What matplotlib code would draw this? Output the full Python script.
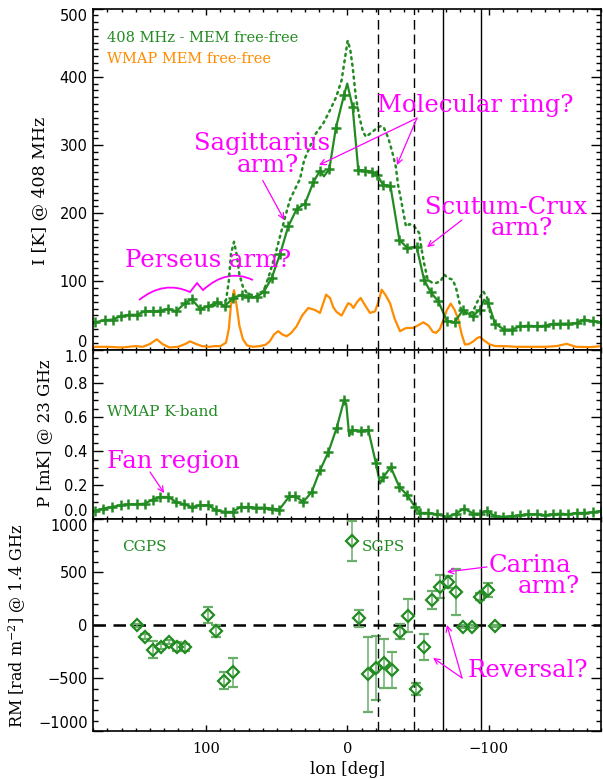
import matplotlib.pyplot as plt
from matplotlib.path import Path
from matplotlib.patches import PathPatch
from matplotlib.ticker import MultipleLocator

GREEN = '#228b22'
ORANGE = '#ff8c00'
MAGENTA = '#ff00ff'
ERR_GREEN = '#6aae6a'

plt.rcParams['font.family'] = 'DejaVu Serif'
plt.rcParams['mathtext.fontset'] = 'dejavuserif'

# --- 408 MHz minus MEM free-free, brightness temperature [K]
lon_408 = [180, 178.8, 171.7, 166.3, 160.6, 154.5, 149.3, 143.4, 137.9, 132.8,
           126.9, 121.4, 115, 110.3, 104.4, 98.5, 92.6, 86.7, 80.8, 74.9,
           70.2, 64.3, 59.1, 53.6, 47.7, 41.9, 35.9, 30, 24.2, 19.4,
           16.6, 12.8, 8.1, 2.4, 0.1, -3.7, -7.7, -12.4, -17.1, -21.1,
           -25.3, -30.5, -36.8, -42.4, -49, -54.3, -59, -64.4, -70.5, -76,
           -81.7, -88.8, -93.9, -96.8, -99.8, -104.6, -111, -116.4, -122.3, -128.2,
           -134, -140, -145.4, -150.8, -156.5, -162.4, -167.6, -174.2, -180]
temp_408 = [39, 40, 43, 44, 48.8, 51, 51, 56, 56, 57,
            59.6, 56, 68, 74, 59.6, 63.4, 69, 64, 75.6, 80.5,
            77, 77, 85, 105, 140, 180.5, 206, 214, 245, 262.5,
            254, 264.5, 325.5, 373, 390, 356, 263.5, 262.5, 261, 256,
            241.6, 240, 161, 149, 151, 102.5, 84, 70.7, 42, 40,
            57.5, 48.8, 58.6, 73, 68.3, 38, 29.3, 29.3, 34, 35,
            34, 35, 37.6, 38, 38, 39, 44, 41.5, 40]
unmarked_408 = [180, 16.6, 0.1, -96.8]

# --- total 408 MHz where it departs from the curve above [K]
lon_408_tot = [95, 90, 86, 84, 82.5, 80.3, 78.5, 76.5, 74, 71,
               64, 59, 55, 51, 47.7, 44, 40.7, 36, 33.6, 30.6,
               26, 22.3, 17, 12.3, 8, 4.1, 1.5, -0.2, -2, -3.7,
               -6, -8.4, -11, -13.1, -17, -21.3, -24, -26, -29, -32,
               -34.3, -36, -38, -41.5, -44, -47.4, -50.9, -52.2, -54.5, -56.9,
               -60, -62.8, -66, -68.5, -71, -74.6, -77, -80.5, -84, -88.8,
               -92, -96.3, -99, -102, -105]
temp_408_tot = [64, 68, 72, 100, 140, 158, 140, 110, 92, 82,
                78, 87, 112, 140, 166, 195, 219.6, 240, 250, 278,
                300, 317, 332, 351, 370, 395, 430, 453, 440, 415,
                370, 341.6, 320, 312, 318, 325.5, 328, 324.6, 310, 288,
                268, 240, 219.6, 180.5, 184, 180.5, 170.8, 151, 125, 102.5,
                98, 97.6, 100, 110, 105, 102.5, 90, 58.6, 52, 55,
                70, 85, 76, 45, 38]

# --- WMAP MEM free-free scaled to 408 MHz [K]
lon_ff = [180, 170, 160, 150, 145, 140, 135, 131, 126, 120,
          115, 111.5, 107, 103, 98, 94, 90, 86, 84, 82.5,
          80.3, 78.5, 76.5, 74, 71, 67, 62, 58, 55, 52,
          49, 46, 43, 40, 36, 32, 27.7, 23, 19.4, 15.1,
          12.3, 10, 7.6, 4.1, 1.5, -0.6, -2.5, -4.2, -7, -9.4,
          -12.5, -16, -19.6, -22, -24.3, -27, -30.2, -33.5, -37.3, -40,
          -42, -46.7, -50.5, -53.8, -57.5, -60.5, -62.8, -65.5, -68, -70.5,
          -73.2, -76, -78.6, -81, -83.3, -86, -89.2, -92, -94, -97,
          -101, -105, -111, -120, -130, -140, -148, -155.3, -162, -172,
          -180]
temp_ff = [4, 4, 3, 5, 4, 8, 15, 8, 3, 4,
           8, 12, 8, 5, 4, 5, 5, 10, 30, 65,
           87, 65, 35, 15, 6, 4, 5, 7, 12, 22,
           27, 22, 19.5, 24, 34, 50, 61, 58, 53.7, 80.5,
           75.6, 62, 55, 49.8, 60, 68, 66, 61, 70, 75.6,
           65, 53.7, 56, 70, 87.8, 80, 68, 45, 26.8, 30,
           31.7, 31.7, 36, 40, 35, 26, 24.4, 30, 44, 58,
           67.3, 58, 44, 22, 7.3, 8, 12, 17, 18.5, 13,
           7.3, 5, 5, 4, 4, 4, 5, 8.3, 4, 3.5,
           5]

# --- WMAP K-band polarized intensity [mK]
lon_k = [180, 178.8, 172.9, 167, 160.6, 155.2, 149.3, 143.4, 137.9, 132.7,
         126.9, 121.4, 115.8, 110.3, 104.4, 98.5, 93, 86.7, 81.3, 75.6,
         70.2, 64.7, 59.1, 53.6, 48.2, 41.1, 37.1, 31.2, 25.3, 19.4,
         13.5, 7.6, 2.4, 0.8, -1.3, -3, -9.4, -14.8, -20.2, -23.1,
         -25.5, -30.7, -36.8, -42.5, -47.9, -51.4, -57.3, -63.3, -70.8, -76.9,
         -82.6, -89.2, -93.9, -98.7, -104.6, -110, -116.4, -122.3, -128.1, -134,
         -140, -145.5, -150.8, -156.5, -162.4, -167.6, -174, -180]
pol_k = [0.045, 0.049, 0.063, 0.072, 0.082, 0.088, 0.088, 0.092, 0.116, 0.131,
         0.131, 0.102, 0.088, 0.072, 0.082, 0.082, 0.053, 0.043, 0.043, 0.072,
         0.072, 0.068, 0.068, 0.063, 0.057, 0.135, 0.135, 0.102, 0.16, 0.288,
         0.395, 0.538, 0.70, 0.68, 0.49, 0.526, 0.522, 0.526, 0.33, 0.21,
         0.248, 0.307, 0.19, 0.141, 0.072, 0.037, 0.037, 0.029, 0.014, 0.033,
         0.063, 0.033, 0.033, 0.049, 0.018, 0.014, 0.018, 0.023, 0.029, 0.029,
         0.023, 0.029, 0.033, 0.029, 0.037, 0.037, 0.041, 0.049]
unmarked_k = [180, 0.8, -1.3, -23.1]

# --- rotation measures at 1.4 GHz [rad m^-2]
lon_rm = [149.3, 143.4, 137.9, 132.3, 126.4, 121, 115, 98.5, 93, 87.2,
          81.3, -3, -8.5, -14.8, -20.2, -25.9, -31.4, -37.3, -43.1, -48.6,
          -54.5, -60.2, -65.7, -71.5, -76.9, -82.1, -88.1, -93.9, -99.8, -104.6]
rm = [0, -107, -233, -202, -161, -202, -208, 97, -51, -522,
      -444, 795, 66, -462, -400, -359, -422, -60, 91, -601,
      -208, 238, 365, 412, 317, -13, -13, 270, 333, -7]
rm_err = [15, 20, 80, 25, 20, 45, 30, 78, 55, 80,
          140, 190, 82, 354, 300, 233, 173, 74, 157, 52,
          123, 85, 110, 57, 216, 15, 15, 30, 68, 10]

dashed_lon = [-22, -47]
solid_lon = [-68, -95]

yticks_408 = [0, 100, 200, 300, 400, 500]
yticks_k = [0.0, 0.2, 0.4, 0.6, 0.8, 1.0]
yticks_rm = [-1000, -500, 0, 500, 1000]

fig = plt.figure(figsize=(6.03, 7.79), dpi=100)
left, width = 0.1547, 0.8428
ax1 = fig.add_axes([left, 0.5513, width, 0.4377])
ax2 = fig.add_axes([left, 0.3335, width, 0.2178], sharex=ax1)
ax3 = fig.add_axes([left, 0.0612, width, 0.2723], sharex=ax1)
ax1.set_xlim(180, -180)

# top panel: 408 MHz
ax1.plot(lon_408_tot, temp_408_tot, color=GREEN, lw=1.8, ls=(0, (0.8, 1.8)),
         dash_capstyle='round')
ax1.plot(lon_ff, temp_ff, color=ORANGE, lw=1.6)
mk = [i for i, l in enumerate(lon_408) if l not in unmarked_408]
ax1.plot(lon_408, temp_408, color=GREEN, lw=1.6, marker='+', ms=7, mew=1.8,
         markevery=mk)
ax1.set_ylim(0, 500)
ax1.set_yticks(yticks_408)
ax1.yaxis.set_minor_locator(MultipleLocator(10))

# middle panel: K-band polarization
mk = [i for i, l in enumerate(lon_k) if l not in unmarked_k]
ax2.plot(lon_k, pol_k, color=GREEN, lw=1.6, marker='+', ms=7, mew=1.8,
         markevery=mk)
ax2.set_ylim(0, 1.0)
ax2.set_yticks(yticks_k)
ax2.yaxis.set_minor_locator(MultipleLocator(0.05))

# bottom panel: RM
ax3.axhline(0, color='black', lw=1.8, ls=(0, (5, 3)))
ax3.errorbar(lon_rm, rm, yerr=rm_err, fmt='D', ms=6, mfc='none', mec=GREEN,
             mew=1.6, ecolor=ERR_GREEN, elinewidth=1.1, capsize=3.5,
             capthick=1.1)
ax3.set_ylim(-1000, 1000)
ax3.set_yticks(yticks_rm)
ax3.yaxis.set_minor_locator(MultipleLocator(100))

for ax in (ax1, ax2, ax3):
    for l in dashed_lon:
        ax.axvline(l, color='black', lw=1.0, ls=(0, (7, 3.5)))
    for l in solid_lon:
        ax.axvline(l, color='black', lw=1.0)
    ax.xaxis.set_major_locator(MultipleLocator(100))
    ax.xaxis.set_minor_locator(MultipleLocator(10))
    ax.tick_params(which='both', direction='in', top=True, right=True,
                   width=1.0)
    ax.tick_params(axis='y', which='major', length=7.2, pad=4)
    ax.tick_params(axis='y', which='minor', length=3.6)
    ax.tick_params(axis='x', which='major', length=4.5, pad=8)
    ax.tick_params(axis='x', which='minor', length=2.5)
    for lab in ax.get_yticklabels():
        lab.set_fontfamily('DejaVu Sans')
        lab.set_fontsize(10.5)
    # keep the end labels inside the panel so neighbours don't collide
    ticks = ax.yaxis.get_major_ticks()
    ticks[0].label1.set_va('bottom')
    ticks[-1].label1.set_va('top')
    for sp in ax.spines.values():
        sp.set_linewidth(1.2)
ax1.tick_params(labelbottom=False)
ax2.tick_params(labelbottom=False)
for lab in ax3.get_xticklabels():
    lab.set_fontsize(10.5)

ax1.set_ylabel('I [K] @ 408 MHz', fontsize=12.5, va='center')
ax1.yaxis.set_label_coords(-0.105, 0.465)
ax2.set_ylabel('P [mK] @ 23 GHz', fontsize=12, va='center')
ax2.yaxis.set_label_coords(-0.095, 0.508)
ax3.set_ylabel('RM [rad m$^{-2}$] @ 1.4 GHz', fontsize=11.5, va='center')
ax3.yaxis.set_label_coords(-0.150, 0.497)
ax3.set_xlabel('lon [deg]', fontsize=12, va='center')
ax3.xaxis.set_label_coords(0.5, -0.178)

# legends and survey names
ax1.text(170.3, 456.7, '408 MHz - MEM free-free', color=GREEN, fontsize=10.5,
         va='center')
ax1.text(170.3, 426, 'WMAP MEM free-free', color=ORANGE, fontsize=10.5,
         va='center')
ax2.text(170.3, 0.631, 'WMAP K-band', color=GREEN, fontsize=11, va='center')
ax3.text(159.7, 739, 'CGPS', color=GREEN, fontsize=11, va='center')
ax3.text(-10.3, 739, 'SGPS', color=GREEN, fontsize=11, va='center')

# spiral arm labels
note = dict(color=MAGENTA, fontsize=17.5, ha='center', va='center')
arrow = dict(arrowstyle='->', color=MAGENTA, lw=0.9, shrinkA=0, shrinkB=0)

ax1.text(60.1, 302.8, 'Sagittarius', **note)
ax1.text(56.2, 270, 'arm?', **note)
ax1.annotate('', xy=(44.7, 189.9), xytext=(60, 248), arrowprops=arrow)
ax1.text(-90.4, 358.5, 'Molecular ring?', **note)
ax1.annotate('', xy=(20.1, 270.5), xytext=(-49.3, 339.4), arrowprops=arrow)
ax1.annotate('', xy=(-35.1, 270.5), xytext=(-49.3, 339.4), arrowprops=arrow)
ax1.text(-112.7, 209, 'Scutum-Crux', **note)
ax1.text(-123.3, 178, 'arm?', **note)
ax1.annotate('', xy=(-56.4, 150.3), xytext=(-81.2, 190), arrowprops=arrow)
ax1.text(98.4, 131.2, 'Perseus arm?', **note)

# brace under the Perseus label
verts = [(147.6, 72.6), (130, 102), (111.5, 84.3),
         (106.5, 97.5), (102.3, 87.2),
         (85, 120), (66.9, 101.9)]
codes = [Path.MOVETO, Path.CURVE3, Path.CURVE3,
         Path.LINETO, Path.LINETO,
         Path.CURVE3, Path.CURVE3]
ax1.add_patch(PathPatch(Path(verts, codes), fill=False, ec=MAGENTA, lw=1.3))

ax2.text(170.3, 0.339, 'Fan region', color=MAGENTA, fontsize=17.5,
         va='center')
ax2.annotate('', xy=(129.8, 0.154), xytext=(139.8, 0.278), arrowprops=arrow)

ax3.text(-129.3, 559, 'Carina', **note)
ax3.text(-142.8, 361, 'arm?', **note)
ax3.annotate('', xy=(-70.5, 503), xytext=(-98.9, 550), arrowprops=arrow)
ax3.text(-127.5, -422, 'Reversal?', **note)
ax3.annotate('', xy=(-60.7, -308), xytext=(-81.2, -497), arrowprops=arrow)
ax3.annotate('', xy=(-70.5, 3), xytext=(-81.2, -497), arrowprops=arrow)

fig.savefig('out.png', dpi=100)
